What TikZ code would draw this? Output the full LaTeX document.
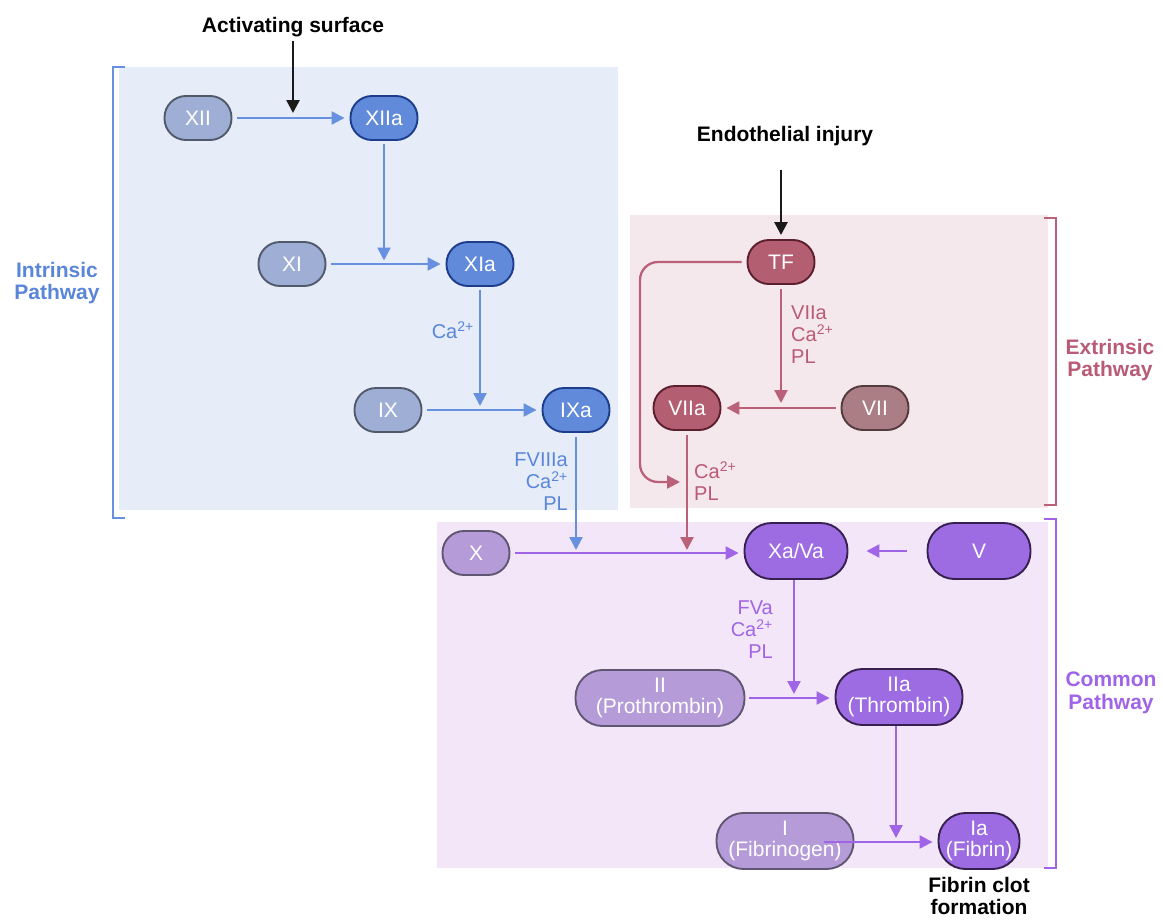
\documentclass[tikz,border=0pt]{standalone}
\usepackage{fontspec}
\setmainfont{Liberation Sans}
\usetikzlibrary{arrows.meta}
\definecolor{bBg}{HTML}{E6ECF8}
\definecolor{pBg}{HTML}{F5E8EC}
\definecolor{uBg}{HTML}{F2E6F8}
\definecolor{bInF}{HTML}{9FAED5}
\definecolor{bInD}{HTML}{505A6B}
\definecolor{bAcF}{HTML}{628ADB}
\definecolor{bAcD}{HTML}{1B3D8C}
\definecolor{bLn}{HTML}{6890E0}
\definecolor{bTx}{HTML}{5A86DA}
\definecolor{pAcF}{HTML}{B45E71}
\definecolor{pAcD}{HTML}{5C1F2E}
\definecolor{pInF}{HTML}{AB7D84}
\definecolor{pInD}{HTML}{533A3E}
\definecolor{pLn}{HTML}{BA6079}
\definecolor{pTx}{HTML}{B95A77}
\definecolor{uAcF}{HTML}{9D6BE2}
\definecolor{uAcD}{HTML}{36204F}
\definecolor{uInF}{HTML}{B59BD8}
\definecolor{uInD}{HTML}{605672}
\definecolor{uLn}{HTML}{A064E6}
\definecolor{uTx}{HTML}{A064E6}
\definecolor{kLn}{HTML}{1A1A1A}
\newcommand\nodefnt{\fontsize{21}{21}\selectfont}
\newcommand\labfnt{\fontsize{20}{22}\selectfont}
\newcommand\headfnt{\fontsize{21}{22.5}\selectfont\bfseries}
\tikzset{
  fac/.style={draw, line width=1.9pt, rounded corners=21.5pt, minimum height=44pt,
    minimum width=67pt, inner sep=0pt, text=white, font=\nodefnt, align=center},
  tall/.style={minimum height=56pt, rounded corners=27pt},
  bin/.style={fac, fill=bInF, draw=bInD},
  bact/.style={fac, fill=bAcF, draw=bAcD},
  pact/.style={fac, fill=pAcF, draw=pAcD},
  pin/.style={fac, fill=pInF, draw=pInD},
  uact/.style={fac, fill=uAcF, draw=uAcD},
  uin/.style={fac, fill=uInF, draw=uInD},
  conn/.style={line width=2.3pt, -{Triangle[length=13pt,width=13pt]}},
  barrow/.style={conn, draw=bLn},
  parrow/.style={conn, draw=pLn},
  uarrow/.style={conn, draw=uLn},
  karrow/.style={line width=2.6pt, draw=kLn, -{Triangle[length=13pt,width=13pt]}},
  brk/.style={line width=2.2pt},
  lab/.style={font=\labfnt, inner sep=0pt},
  head/.style={font=\headfnt, inner sep=0pt, align=center},
}
\begin{document}
\begin{tikzpicture}[x=1pt,y=-1pt]
\useasboundingbox (0,0) rectangle (1163,921);
% backgrounds
\fill[bBg] (119,67) rectangle (618,510);
\fill[pBg] (630,215) rectangle (1048,508);
\fill[uBg] (437,522) rectangle (1048,868);
% brackets
\draw[brk, bLn] (125,67) -- (113,67) -- (113,518) -- (125,518);
\draw[brk, pLn] (1044,218) -- (1056,218) -- (1056,505) -- (1044,505);
\draw[brk, uLn] (1044,519) -- (1056,519) -- (1056,868) -- (1044,868);
% headings
\node[head, anchor=base] (act) at (293,32) {Activating surface};
\node[head, anchor=base] (endo) at (785,141) {Endothelial injury};
\node[head, text=bTx] (intr) at (57,283) {Intrinsic\\Pathway};
\node[head, text=pTx] (extr) at (1110,360) {Extrinsic\\Pathway};
\node[head, text=uTx] (comm) at (1111,693) {Common\\Pathway};
\node[head] (clot) at (979,896) {Fibrin clot\\formation};
% intrinsic nodes
\node[bin] (XII) at (198,118) {XII};
\node[bact] (XIIa) at (384,118) {XIIa};
\node[bin] (XI) at (292,264) {XI};
\node[bact] (XIa) at (480,264) {XIa};
\node[bin] (IX) at (388,410) {IX};
\node[bact] (IXa) at (576,410) {IXa};
% extrinsic nodes
\node[pact] (TF) at (781,262) {TF};
\node[pact] (VIIa) at (687,408) {VIIa};
\node[pin] (VII) at (875,408) {VII};
% common nodes
\node[uin] (X) at (476,553) {X};
\node[uact, tall, minimum width=103pt] (XaVa) at (796,551) {Xa/Va};
\node[uact, tall, minimum width=103pt] (V) at (979,551) {V};
\node[uin, tall, minimum width=169pt] (II) at (660,698) {II\\(Prothrombin)};
\node[uact, tall, minimum width=127pt] (IIa) at (899,697) {IIa\\(Thrombin)};
\node[uin, tall, minimum width=137pt] (I) at (785,841) {I\\(Fibrinogen)};
\node[uact, tall, minimum width=81pt] (Ia) at (979,841) {Ia\\(Fibrin)};
% junction coordinates
\coordinate (j1) at (293,118);
\coordinate (j2) at (384,264);
\coordinate (j3) at (480,410);
\coordinate (j4) at (576,553);
\coordinate (j5) at (687,553);
\coordinate (j6) at (794,698);
\coordinate (j7) at (896,842);
\coordinate (j8) at (781,408);
\coordinate (tfa) at (640,262);
\coordinate (tfb) at (640,482);
\coordinate (tfc) at (680,482);
% intrinsic connectors
\draw[karrow, shorten <=4pt, shorten >=5pt] (act) -- (j1);
\draw[barrow, shorten <=5pt, shorten >=5pt] (XII) -- (XIIa);
\draw[barrow, shorten <=3pt, shorten >=3.5pt] (XIIa) -- (j2);
\draw[barrow, shorten <=5pt, shorten >=5pt] (XI) -- (XIa);
\draw[barrow, shorten <=3pt, shorten >=4pt] (XIa) -- (j3);
\node[lab, text=bTx, anchor=east] (lca1) at (474,330) {Ca\textsuperscript{2+}};
\draw[barrow, shorten <=5pt, shorten >=5pt] (IX) -- (IXa);
\draw[barrow, shorten <=4pt, shorten >=3pt] (IXa) -- (j4);
\node[lab, text=bTx, anchor=east, align=right] (lf8) at (568,482) {FVIIIa\\Ca\textsuperscript{2+}\\PL};
% extrinsic connectors
\draw[karrow, shorten <=24pt, shorten >=4pt] (endo.south -| TF) -- (TF);
\draw[parrow, shorten <=4pt, shorten >=5pt] (TF) -- (j8);
\node[lab, text=pTx, anchor=west, align=left] (lv7) at (791,335) {VIIa\\Ca\textsuperscript{2+}\\PL};
\draw[parrow, shorten <=5pt, shorten >=5pt] (VII) -- (VIIa);
\draw[parrow, rounded corners=18pt, shorten <=5pt] (TF.west) -- (tfa) -- (tfb) -- (tfc);
\draw[parrow, shorten <=4pt, shorten >=3pt] (VIIa) -- (j5);
\node[lab, text=pTx, anchor=west, align=left] (lca2) at (694,481) {Ca\textsuperscript{2+}\\PL};
% common connectors
\draw[uarrow, shorten <=5pt, shorten >=5pt] (X) -- (X -| XaVa.west);
\draw[uarrow, shorten <=20pt, shorten >=18pt] (V.west) -- (XaVa.east);
\draw[uarrow, shorten >=4pt] (XaVa.south -| j6) -- (j6);
\node[lab, text=uTx, anchor=east, align=right] (lfva) at (773,630) {FVa\\Ca\textsuperscript{2+}\\PL};
\draw[uarrow, shorten <=4pt, shorten >=5pt] (II.east |- j6) -- (IIa.west |- j6);
\draw[uarrow, shorten >=4pt] (IIa.south -| j7) -- (j7);
\draw[uarrow, shorten >=5pt] ([xshift=-30pt]I.east |- j7) -- (Ia.west |- j7);
\end{tikzpicture}
\end{document}
